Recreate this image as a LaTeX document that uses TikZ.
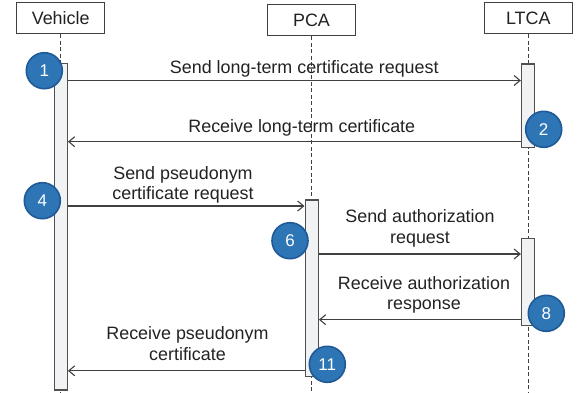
\documentclass[tikz,border=0pt]{standalone}
\usepackage{fontspec}
\setmainfont{Liberation Sans}
\usetikzlibrary{arrows.meta}
\definecolor{linegray}{HTML}{404040}
\definecolor{bargray}{HTML}{F1F2F4}
\definecolor{barline}{HTML}{505050}
\definecolor{numblue}{HTML}{2E75B6}
\definecolor{numedge}{HTML}{1F5A96}
\definecolor{txt}{HTML}{222222}
\begin{document}
\begin{tikzpicture}[x=1pt,y=-1pt,
  actor/.style={draw=linegray,line width=1.1pt,fill=white,minimum width=88pt,minimum height=31pt,inner sep=0pt,text=txt,font=\fontsize{17.9}{20.5}\selectfont},
  life/.style={draw=linegray,line width=0.9pt,dash pattern=on 4pt off 2.5pt},
  actbar/.style={draw=barline,line width=1.1pt,fill=bargray,minimum width=13.3pt,inner sep=0pt},
  msg/.style={draw=linegray,line width=1.3pt,-{Straight Barb[length=6pt,width=10pt,line width=1.1pt]}},
  lbl/.style={inner sep=0pt,align=center,text=txt,anchor=south,font=\fontsize{17.9}{20.5}\selectfont},
  num/.style={circle,draw=numedge,line width=1.6pt,fill=numblue,minimum size=36pt,inner sep=0pt,text=white,font=\fontsize{17}{17}\selectfont}
]
\useasboundingbox (0,0) rectangle (582,392);

% actors
\node[actor] (veh) at (60.7,18.35) {Vehicle};
\node[actor] (pca) at (311.5,20.2) {PCA};
\node[actor] (ltca) at (528.3,18.35) {LTCA};

% lifelines
\coordinate (vend) at (60.7,392);
\coordinate (pend) at (311.7,392);
\coordinate (lend) at (528,392);
\draw[life] (veh.south -| vend) -- (vend);
\draw[life] (pca.south -| pend) -- (pend);
\draw[life] (ltca.south -| lend) -- (lend);

% activation bars
\node[actbar,minimum height=326.7pt] (vb) at (60.7,226.65) {};
\node[actbar,minimum height=83.3pt] (lb1) at (528.1,105.65) {};
\node[actbar,minimum height=176.7pt] (pb) at (311.7,288.35) {};
\node[actbar,minimum height=87pt] (lb2) at (528.1,282.2) {};

% messages
\draw[msg] (vb.east |- 0,80.5) -- (lb1.west |- 0,80.5);
\draw[msg] (lb1.west |- 0,141.7) -- (vb.east |- 0,141.7);
\draw[msg] (vb.east |- 0,206) -- (pb.west |- 0,206);
\draw[msg] (pb.east |- 0,254) -- (lb2.west |- 0,254);
\draw[msg] (lb2.west |- 0,319.7) -- (pb.east |- 0,319.7);
\draw[msg] (pb.west |- 0,370.8) -- (vb.east |- 0,370.8);

% labels
\node[lbl] (t1) at (304.3,77.8) {Send long-term certificate request};
\node[lbl] (t2) at (301.8,136.5) {Receive long-term certificate};
\node[lbl] (t3) at (183,203.8) {Send pseudonym\\certificate request};
\node[lbl] (t4) at (420,247.1) {Send authorization\\request};
\node[lbl] (t5) at (424,313.8) {Receive authorization\\response};
\node[lbl] (t6) at (187.5,360.7) {Receive pseudonym\\certificate};

% step numbers
\node[num] (n1) at (44.3,70.7) {1};
\node[num] (n2) at (543.7,129.3) {2};
\node[num] (n4) at (42.3,200.7) {4};
\node[num] (n6) at (290,240.7) {6};
\node[num] (n8) at (546.3,313.3) {8};
\node[num] (n11) at (327.3,364.3) {11};
\end{tikzpicture}
\end{document}
